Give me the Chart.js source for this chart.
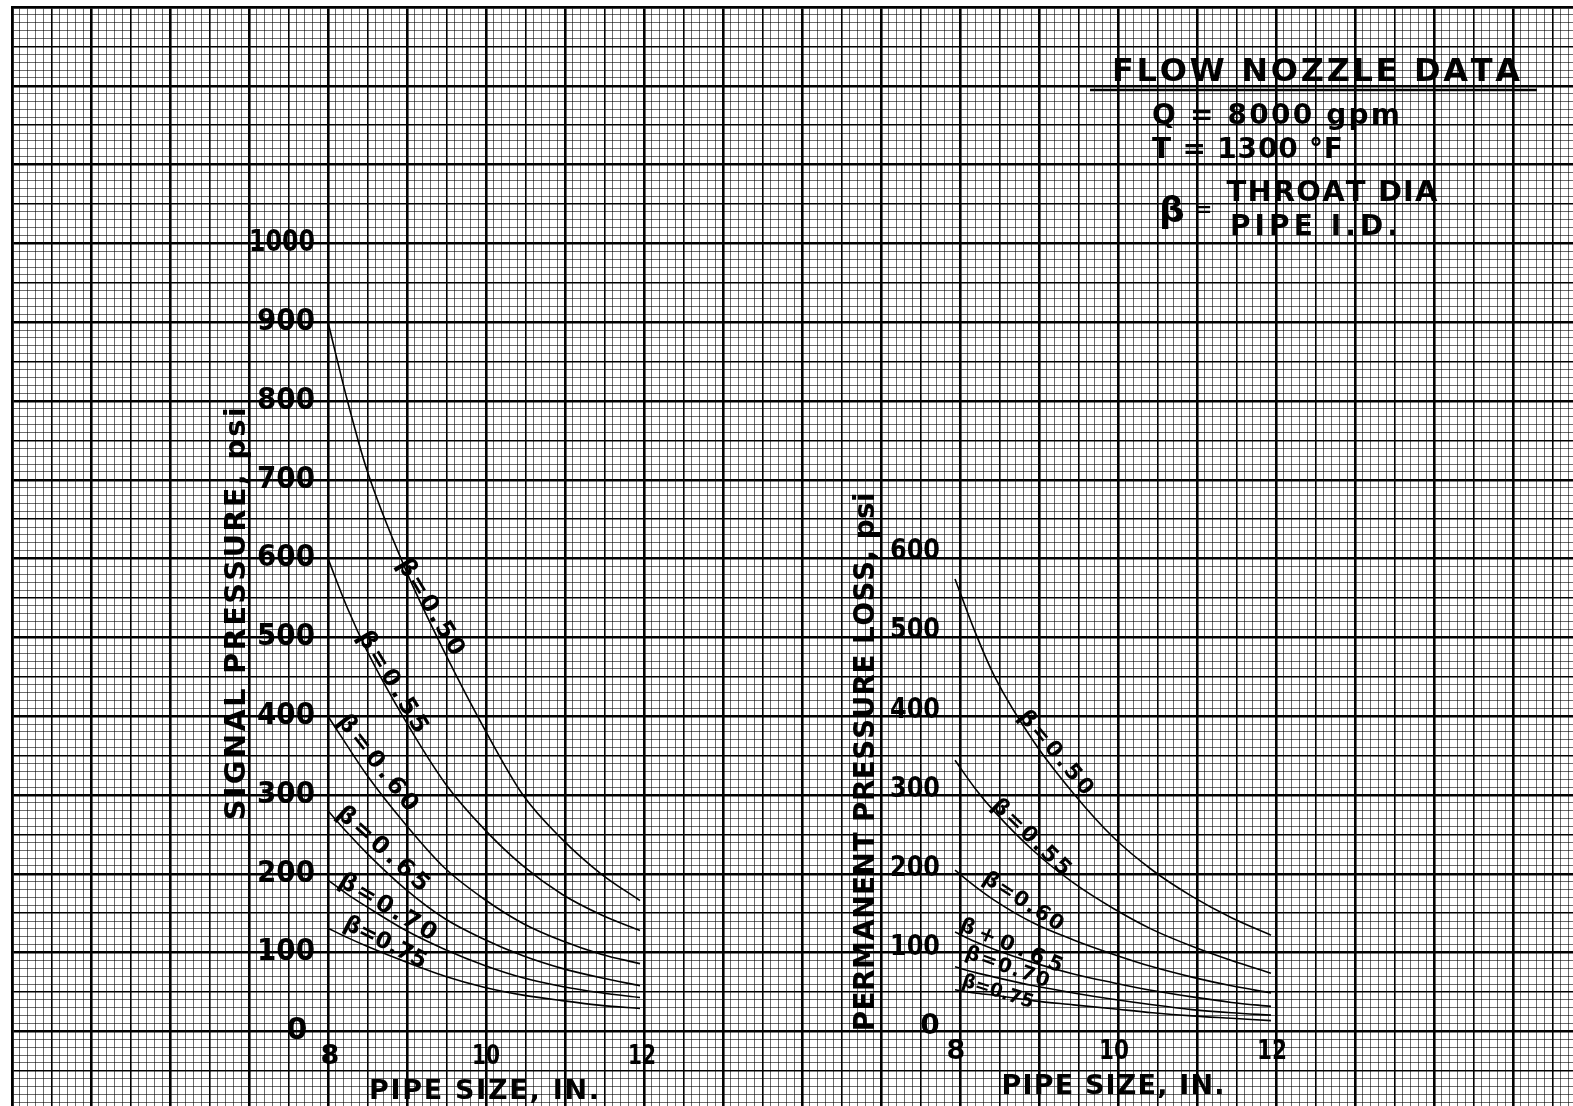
<!DOCTYPE html>
<html>
<head>
<meta charset="utf-8">
<script src="https://cdn.jsdelivr.net/npm/chart.js@4.4.1/dist/chart.umd.min.js"></script>
<style>
html,body{margin:0;padding:0;background:#fff;}
#wrap{width:1573px;height:1106px;position:relative;}
</style>
</head>
<body>
<div id="wrap"><canvas id="c"></canvas></div>
<script>
// ---------------- data ----------------
const pipeSizes = [8, 8.25, 8.5, 9, 9.5, 10, 10.5, 11, 11.5, 12];

// signal pressure, psi (left chart)
const signal_b050 = [900, 800, 712, 585, 480, 385, 300, 244, 200, 166];
const signal_b055 = [600, 537, 483, 393, 315, 257, 210, 174, 148, 128];
const signal_b060 = [400, 362, 325, 262, 207, 168, 137, 115, 98, 86];
const signal_b065 = [280, 252, 226, 180, 143, 117, 96, 80, 68, 58];
const signal_b070 = [192, 174, 158, 128, 104, 84, 68, 57, 49, 43];
const signal_b075 = [131, 119, 108, 88, 70, 56, 46, 39, 33, 29];

// permanent pressure loss, psi (right chart)
const loss_b050 = [566, 500, 443, 360, 295, 240, 198, 165, 138, 116];
const loss_b055 = [337, 302, 272, 222, 182, 150, 123, 102, 84, 68];
const loss_b060 = [198, 178, 160, 131, 110, 92, 76, 63, 52, 43];
const loss_b065 = [120, 108, 98, 81, 67, 56, 46, 38, 31, 26];
const loss_b070 = [76, 69, 63, 52, 43, 35, 28, 22, 18, 15];
const loss_b075 = [47, 43, 40, 33, 28, 23, 18, 14, 11, 8];

const signalLabels = ['β=0.50', 'β=0.55', 'β=0.60', 'β=0.65', 'β=0.70', 'β=0.75'];
const lossLabels   = ['β=0.50', 'β=0.55', 'β=0.60', 'β+0.65', 'β=0.70', 'β=0.75'];

const signalTicks = [0, 100, 200, 300, 400, 500, 600, 700, 800, 900, 1000];
const lossTicks = [0, 100, 200, 300, 400, 500, 600];
const sizeTicks = [8, 10, 12];

const leftYTitle = 'SIGNAL PRESSURE, psi';
const rightYTitle = 'PERMANENT PRESSURE LOSS, psi';
const xTitle = 'PIPE SIZE, IN.';
const titleLines = ['FLOW NOZZLE DATA', 'Q = 8000 gpm', 'T = 1300 °F', 'THROAT DIA', 'PIPE I.D.'];

// ---------------- layout (not data) ----------------
// curve label anchors in each chart's data units: [x, y, angleDeg, width, size]
const signalLabelPos = [
  [9.31, 538, 59, 109, 24], [8.82, 443, 59, 115, 24], [8.63, 340, 52, 116, 24],
  [8.70, 231, 42, 116, 24], [8.76, 157, 31, 110, 24], [8.73, 112, 27, 90, 23]
];
const lossLabelPos = [
  [9.27, 346, 50, 104, 22], [8.96, 239, 44, 101, 22], [8.86, 158, 33, 92, 21],
  [8.71, 102, 23, 110, 21], [8.66, 75, 20, 88, 20], [8.54, 44, 18, 74, 19]
];

function buildSeries(values) {
  return pipeSizes.map((x, i) => ({x: x, y: values[i]}));
}
const signalSeries = [signal_b050, signal_b055, signal_b060, signal_b065, signal_b070, signal_b075];
const lossSeries = [loss_b050, loss_b055, loss_b060, loss_b065, loss_b070, loss_b075];

const datasets = [];
signalSeries.forEach((vals, i) => datasets.push({
  label: 'Signal ' + signalLabels[i], data: buildSeries(vals), xAxisID: 'xL', yAxisID: 'y'
}));
lossSeries.forEach((vals, i) => datasets.push({
  label: 'Loss ' + lossLabels[i], data: buildSeries(vals), xAxisID: 'xR', yAxisID: 'yR'
}));
datasets.forEach(d => Object.assign(d, {
  type: 'line', borderColor: '#000', borderWidth: 1.6, pointRadius: 0,
  fill: false, cubicInterpolationMode: 'monotone'
}));

// ---------------- text helper ----------------
function drawFitted(ctx, str, x, y, opt) {
  ctx.save();
  ctx.translate(x, y);
  if (opt.angle) ctx.rotate(opt.angle * Math.PI / 180);
  ctx.font = (opt.weight || 'bold') + ' ' + opt.size + 'px "DejaVu Sans", sans-serif';
  ctx.textBaseline = 'middle';
  ctx.textAlign = 'left';
  ctx.fillStyle = '#000';
  const chars = Array.from(str);
  const widths = chars.map(c => ctx.measureText(c).width);
  const natural = widths.reduce((a, b) => a + b, 0);
  const target = opt.width || natural;
  let gap = 0, sx = 1;
  if (target > natural && chars.length > 1) gap = (target - natural) / (chars.length - 1);
  else if (target < natural) sx = target / natural;
  let start = opt.align === 'right' ? -target : (opt.align === 'left' ? 0 : -target / 2);
  ctx.scale(sx, 1);
  let cx = start / sx;
  chars.forEach((c, i) => { ctx.fillText(c, cx, 0); cx += widths[i] + gap / sx; });
  ctx.restore();
}

const textPlugin = {
  id: 'paperText',
  afterDraw(chart) {
    const ctx = chart.ctx;
    const s = chart.scales;
    const xL = v => s.xL.getPixelForValue(v), yL = v => s.y.getPixelForValue(v);
    const xR = v => s.xR.getPixelForValue(v), yR = v => s.yR.getPixelForValue(v);

    // left y ticks
    signalTicks.forEach(v => {
      const t = String(v);
      if (v === 0) drawFitted(ctx, t, xL(8) - 31, yL(v), {size: 30, align: 'center'});
      else drawFitted(ctx, t, xL(8) - 13, yL(v), {size: 30, width: t.length === 4 ? 66 : 58, align: 'right'});
    });
    // right y ticks
    lossTicks.forEach(v => {
      const t = String(v);
      if (v === 0) drawFitted(ctx, t, xR(8) - 25, yR(v), {size: 28, align: 'center'});
      else drawFitted(ctx, t, xR(8) - 15, yR(v), {size: 28, width: 50, align: 'right'});
    });
    // x ticks
    sizeTicks.forEach(v => {
      const t = String(v);
      drawFitted(ctx, t, xL(v) + 2, yL(0) + 26, {size: 27, width: t.length > 1 ? 28 : undefined});
      drawFitted(ctx, t, xR(v) + 1, yR(0) + 25, {size: 27, width: t.length > 1 ? 30 : undefined});
    });
    // axis titles
    drawFitted(ctx, xTitle, xL(10), yL(0) + 61, {size: 27, width: 230});
    drawFitted(ctx, xTitle, xR(10), yR(0) + 60, {size: 27, width: 223});
    drawFitted(ctx, leftYTitle, xL(8) - 91, yL(530), {size: 29, width: 413, angle: -90});
    drawFitted(ctx, rightYTitle, xR(8) - 88, yR(335), {size: 28, width: 539, angle: -90});

    // curve labels
    signalLabels.forEach((t, i) => {
      const p = signalLabelPos[i];
      drawFitted(ctx, t, xL(p[0]), yL(p[1]), {size: p[4], width: p[3], angle: p[2]});
    });
    lossLabels.forEach((t, i) => {
      const p = lossLabelPos[i];
      drawFitted(ctx, t, xR(p[0]), yR(p[1]), {size: p[4], width: p[3], angle: p[2]});
    });

    // title block
    drawFitted(ctx, titleLines[0], 1316, 73, {size: 32, width: 408});
    ctx.save();
    ctx.strokeStyle = '#000'; ctx.lineWidth = 2.5;
    ctx.beginPath(); ctx.moveTo(1090, 90); ctx.lineTo(1537, 90); ctx.stroke();
    ctx.restore();
    drawFitted(ctx, titleLines[1], 1152, 117, {size: 28, width: 248, align: 'left'});
    drawFitted(ctx, titleLines[2], 1152, 151, {size: 28, width: 191, align: 'left'});
    drawFitted(ctx, 'β', 1172, 213, {size: 36});
    drawFitted(ctx, '=', 1204, 211, {size: 20});
    drawFitted(ctx, titleLines[3], 1332, 193, {size: 29, width: 211});
    drawFitted(ctx, titleLines[4], 1314, 228, {size: 28, width: 168});
  }
};

// ---------------- graph-paper grid ----------------
function gridColor(idx) {
  if (idx % 5 === 0) return '#000';
  return 'rgba(0,0,0,0.58)';
}
function gridWidth(idx) {
  if (idx % 10 === 0) return 2.6;
  if (idx % 5 === 0) return 1.6;
  return 1;
}
const xIdx = c => Math.round((c.tick ? c.tick.value : 0) * 10);
const yIdx = c => Math.round((c.tick ? c.tick.value : 0) / 10);

new Chart(document.getElementById('c'), {
  data: {datasets: datasets},
  options: {
    responsive: true,
    maintainAspectRatio: false,
    animation: false,
    events: [],
    layout: {padding: {left: 12, top: 7, right: 0, bottom: 0}, autoPadding: false},
    plugins: {legend: {display: false}, tooltip: {enabled: false}, title: {display: false}},
    scales: {
      x: {
        type: 'linear', position: 'top', min: 4, max: 23.759,
        ticks: {display: false, stepSize: 0.1, includeBounds: false},
        grid: {drawTicks: false, color: c => gridColor(xIdx(c)), lineWidth: c => gridWidth(xIdx(c))},
        border: {display: true, color: '#000', width: 2.6}
      },
      y: {
        type: 'linear', position: 'left', min: -94.67, max: 1300,
        ticks: {display: false, stepSize: 10, includeBounds: false},
        grid: {drawTicks: false, color: c => gridColor(yIdx(c)), lineWidth: c => gridWidth(yIdx(c))},
        border: {display: true, color: '#000', width: 2.6}
      },
      xL: {type: 'linear', display: false, min: 3.9487, max: 23.9615},
      xR: {type: 'linear', display: false, min: -3.9367, max: 15.8228},
      yR: {type: 'linear', display: false, min: -99.79, max: 1288.4}
    }
  },
  plugins: [textPlugin]
});
</script>
</body>
</html>
